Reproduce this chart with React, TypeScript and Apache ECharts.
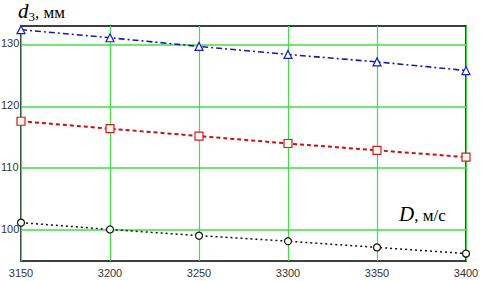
import React, { useEffect, useRef } from "react";
import * as echarts from "echarts";

const xValues = [3150, 3200, 3250, 3300, 3350, 3400];
const blueSeries = [132.4, 131.1, 129.7, 128.4, 127.2, 125.8];
const redSeries = [117.6, 116.4, 115.2, 114.0, 112.9, 111.8];
const blackSeries = [101.2, 100.1, 99.1, 98.2, 97.2, 96.2];
const yTicks = [100, 110, 120, 130];

const pairs = (ys: number[]) => xValues.map((x, i) => [x, ys[i]]);

export default function App() {
  const ref = useRef<HTMLDivElement>(null);
  useEffect(() => {
    if (!ref.current) return;
    const chart = echarts.init(ref.current, null, { renderer: "svg" });
    const grid = "#44dd44";
    const serif = "'Liberation Serif', 'Times New Roman', serif";
    chart.setOption({
      animation: false,
      backgroundColor: "#ffffff",
      grid: { left: 21, right: 17, top: 26, bottom: 20, show: true, borderColor: "#000", borderWidth: 1.5, backgroundColor: "transparent" },
      xAxis: {
        type: "value",
        min: 3150,
        max: 3400,
        interval: 50,
        axisLine: { show: false },
        axisTick: { show: false },
        splitLine: { show: true, lineStyle: { color: grid, width: 1.2 } },
        axisLabel: {
          color: "#333",
          fontFamily: "Liberation Sans",
          fontSize: 11,
          margin: 6,
          showMinLabel: true,
          showMaxLabel: true,
          formatter: (v: number) => String(v),
        },
      },
      yAxis: {
        type: "value",
        min: 95,
        max: 133,
        axisLine: { show: false },
        axisTick: { show: false },
        splitLine: { show: false },
        axisLabel: { show: false },
      },
      series: [
        {
          type: "line",
          data: pairs(blueSeries),
          symbol: "triangle",
          symbolSize: 8,
          lineStyle: { color: "#1a1aa0", width: 1.6, type: [6, 3, 2, 3] },
          itemStyle: { color: "#ffffff", borderColor: "#1a1acc", borderWidth: 1.2 },
          z: 5,
        },
        {
          type: "line",
          data: pairs(redSeries),
          symbol: "rect",
          symbolSize: 8,
          lineStyle: { color: "#cc1010", width: 2, type: [4, 3] },
          itemStyle: { color: "#fff8f0", borderColor: "#cc2020", borderWidth: 1.2 },
          z: 5,
        },
        {
          type: "line",
          data: pairs(blackSeries),
          symbol: "circle",
          symbolSize: 7,
          lineStyle: { color: "#111", width: 1.5, type: [2, 3] },
          itemStyle: { color: "#ffffff", borderColor: "#111", borderWidth: 1.2 },
          z: 5,
          markLine: {
            silent: true,
            symbol: "none",
            label: { show: false },
            lineStyle: { color: grid, width: 1.5, type: "solid" },
            data: yTicks.map((v) => ({ yAxis: v })),
            z: 1,
          },
        },
      ],
      graphic: [
        ...yTicks.map((v) => ({
          type: "text",
          x: 1,
          y: 26 + ((133 - v) / 38) * 235 - 7,
          style: { text: String(v), fill: "#333", font: "11px 'Liberation Sans'" },
        })),
        {
          type: "text",
          left: 18,
          top: 0,
          style: {
            text: "{d|d}{s|3}{n|, мм}",
            rich: {
              d: { font: `italic 21px ${serif}`, fontFamily: serif, fontStyle: "italic", fontSize: 21, fill: "#000" },
              s: { font: `13px ${serif}`, fontFamily: serif, fontSize: 13, fill: "#000", padding: [12, 0, 0, 0] },
              n: { font: `17px ${serif}`, fontFamily: serif, fontSize: 17, fill: "#000", padding: [4, 0, 0, 0] },
            },
          },
        },
        {
          type: "text",
          left: 399,
          top: 203,
          style: {
            text: "{d|D}{n|, м/с}",
            rich: {
              d: { font: `italic 21px ${serif}`, fontFamily: serif, fontStyle: "italic", fontSize: 21, fill: "#000" },
              n: { font: `17px ${serif}`, fontFamily: serif, fontSize: 17, fill: "#000", padding: [4, 0, 0, 0] },
            },
          },
        },
      ],
    });
    return () => chart.dispose();
  }, []);
  return <div ref={ref} style={{ position: "fixed", left: 0, top: 0, width: 483, height: 281 }} />;
}
